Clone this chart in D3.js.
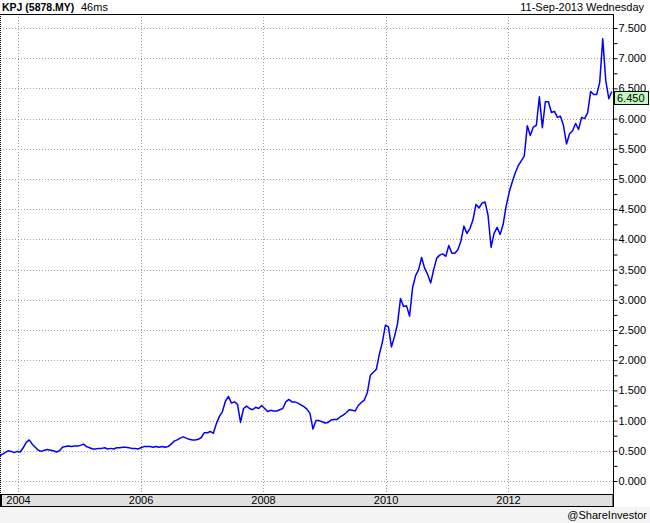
<!DOCTYPE html>
<html><head><meta charset="utf-8">
<script src="https://cdn.jsdelivr.net/npm/d3@7"></script>
<style>
html,body{margin:0;padding:0;background:#f4f4f4;}
svg{display:block;font-family:"Liberation Sans",Arial,sans-serif;}
</style></head><body>
<svg id="c" width="650" height="523"></svg>
<script>
// ---- data ----
const title = "KPJ (5878.MY)";
const subtitle = "46ms";
const dateLabel = "11-Sep-2013 Wednesday";
const credit = "@ShareInvestor";
const lastPrice = 6.45;
const startDate = "2003-09-10";
const stepDays = 18;
const prices = [
0.41,0.44,0.47,0.50,0.49,0.47,0.49,0.48,0.55,0.64,
0.68,0.61,0.56,0.51,0.49,0.51,0.52,0.51,0.50,0.48,
0.50,0.56,0.57,0.58,0.57,0.58,0.58,0.59,0.61,0.57,
0.55,0.53,0.53,0.54,0.54,0.55,0.53,0.54,0.53,0.55,
0.55,0.56,0.56,0.55,0.54,0.54,0.53,0.55,0.57,0.57,
0.57,0.56,0.57,0.56,0.57,0.56,0.57,0.61,0.66,0.68,
0.71,0.73,0.71,0.69,0.68,0.68,0.69,0.72,0.80,0.80,
0.82,0.79,0.95,1.07,1.15,1.32,1.40,1.29,1.31,1.27,
0.97,1.20,1.24,1.20,1.18,1.22,1.20,1.25,1.20,1.15,
1.17,1.16,1.16,1.18,1.20,1.31,1.35,1.31,1.31,1.29,
1.26,1.23,1.19,1.12,0.86,1.00,1.00,0.98,0.96,0.97,
1.01,1.02,1.02,1.06,1.09,1.13,1.18,1.17,1.16,1.25,
1.30,1.34,1.46,1.75,1.80,1.85,2.10,2.30,2.58,2.55,
2.22,2.39,2.60,3.02,2.89,2.90,2.73,3.20,3.40,3.50,
3.70,3.52,3.42,3.28,3.50,3.69,3.74,3.76,3.72,3.90,
3.77,3.77,3.83,3.97,4.22,4.10,4.18,4.32,4.58,4.52,
4.60,4.62,4.40,3.87,4.10,4.20,4.08,4.25,4.55,4.78,
4.95,5.10,5.22,5.30,5.38,5.88,5.72,5.86,5.89,6.36,
5.85,6.28,6.28,6.10,6.12,6.02,6.04,5.88,5.58,5.75,
5.80,5.92,5.82,6.02,6.00,6.10,6.45,6.40,6.40,6.60,
7.32,6.63,6.33,6.45
];
const yTicks = [0,0.5,1,1.5,2,2.5,3,3.5,4,4.5,5,5.5,6,6.5,7,7.5];
const yMinorTicks = [0.25,0.75,1.25,1.75,2.25,2.75,3.25,3.75,4.25,4.75,5.25,5.75,6.25,6.75,7.25];
const xTickYears = ["2004","2006","2008","2010","2012"];

// ---- layout ----
const W = 650, H = 523;
const plotL = 0, plotR = 613, plotT = 14, plotB = 494, bandB = 507;

const parse = d3.timeParse("%Y-%m-%d");
const t0 = parse(startDate);
const data = prices.map((v,i)=>({date:d3.timeDay.offset(t0, i*stepDays), v}));

const x = d3.scaleTime()
  .domain([new Date(2004,0,1), new Date(2012,0,1)])
  .range([18, 508]);
const y = d3.scaleLinear().domain([0,7.5]).range([481,28]);

const svg = d3.select("#c");
// backgrounds
svg.append("rect").attr("x",0).attr("y",0).attr("width",W).attr("height",bandB).attr("fill","#fff");
svg.append("rect").attr("x",0).attr("y",bandB).attr("width",W).attr("height",H-bandB).attr("fill","#f4f4f4");

// header
svg.append("text").attr("x",2).attr("y",11).attr("font-size",10.5).attr("font-weight","bold").attr("fill","#000").text(title);
svg.append("text").attr("x",81).attr("y",11).attr("font-size",11).attr("fill","#000").text(subtitle);
svg.append("text").attr("x",644).attr("y",11).attr("font-size",11).attr("text-anchor","end").attr("fill","#000").text(dateLabel);

// grid
const grid = svg.append("g");
grid.selectAll("line.h").data(yTicks).join("line")
  .attr("x1",plotL).attr("x2",plotR).attr("y1",d=>Math.round(y(d))+0.5).attr("y2",d=>Math.round(y(d))+0.5)
  .attr("stroke","#a0a0a0").attr("stroke-dasharray","1,2");
grid.selectAll("line.v").data(xTickYears).join("line")
  .attr("x1",d=>Math.round(x(new Date(+d,0,1)))+0.5).attr("x2",d=>Math.round(x(new Date(+d,0,1)))+0.5)
  .attr("y1",plotT).attr("y2",plotB)
  .attr("stroke","#a0a0a0").attr("stroke-dasharray","1,2");

// line
svg.append("clipPath").attr("id","clip").append("rect")
  .attr("x",plotL).attr("y",plotT).attr("width",plotR-plotL).attr("height",plotB-plotT);
svg.append("path").datum(data)
  .attr("clip-path","url(#clip)")
  .attr("fill","none").attr("stroke","#0000ff").attr("stroke-width",1.5).attr("stroke-linejoin","round")
  .attr("d", d3.line().x(d=>x(d.date)).y(d=>y(d.v)));

// frame lines
svg.append("line").attr("x1",0).attr("x2",plotR).attr("y1",plotT+0.5).attr("y2",plotT+0.5).attr("stroke","#000");
svg.append("line").attr("x1",0.5).attr("x2",0.5).attr("y1",plotT).attr("y2",plotB).attr("stroke","#000").attr("stroke-dasharray","1,1");

// x band
svg.append("rect").attr("x",0.5).attr("y",plotB+0.5).attr("width",plotR-0.5).attr("height",bandB-plotB-1)
  .attr("fill","#e0e0e0").attr("stroke","#000");
svg.append("line").attr("x1",1).attr("x2",1).attr("y1",plotB).attr("y2",bandB).attr("stroke","#000").attr("stroke-width",2);

const xAxis = d3.axisBottom(x)
  .tickValues(xTickYears.map(d=>new Date(+d,0,1)))
  .tickFormat(d3.timeFormat("%Y")).tickSize(0).tickPadding(0);
const gx = svg.append("g").attr("transform",`translate(0,${plotB})`).call(xAxis);
gx.select(".domain").remove();
gx.selectAll("text").attr("font-size",11).attr("font-family","Liberation Sans, Arial, sans-serif")
  .attr("fill","#000").attr("y",2).attr("dy","0.71em");

// right axis
const gy = svg.append("g").attr("transform",`translate(${plotR+0.5},0)`)
  .call(d3.axisRight(y).tickValues(yTicks).tickFormat(d3.format(".3f")).tickSize(4).tickPadding(1));
gy.select(".domain").remove();
gy.selectAll("text").attr("font-size",11).attr("font-family","Liberation Sans, Arial, sans-serif").attr("fill","#000");
gy.selectAll(".tick line").attr("stroke","#000");
const gyMinor = svg.append("g").attr("transform",`translate(${plotR+0.5},0)`)
  .call(d3.axisRight(y).tickValues(yMinorTicks).tickFormat("").tickSize(4));
gyMinor.select(".domain").remove();
gyMinor.selectAll(".tick line").attr("stroke","#000");
svg.append("line").attr("x1",plotR+0.5).attr("x2",plotR+0.5).attr("y1",plotT).attr("y2",bandB).attr("stroke","#000");

// last price box
const py = Math.round(y(lastPrice));
svg.append("rect").attr("x",plotR+1.5).attr("y",py+0.5).attr("width",34).attr("height",13)
  .attr("fill","#c0f8c0").attr("stroke","#000");
svg.append("text").attr("x",plotR+4).attr("y",py+7).attr("dy","0.35em").attr("font-size",11).attr("fill","#000")
  .text(d3.format(".3f")(lastPrice));

// credit
svg.append("text").attr("x",647).attr("y",519).attr("font-size",11).attr("text-anchor","end").attr("fill","#000").text(credit);
</script>
</body></html>
